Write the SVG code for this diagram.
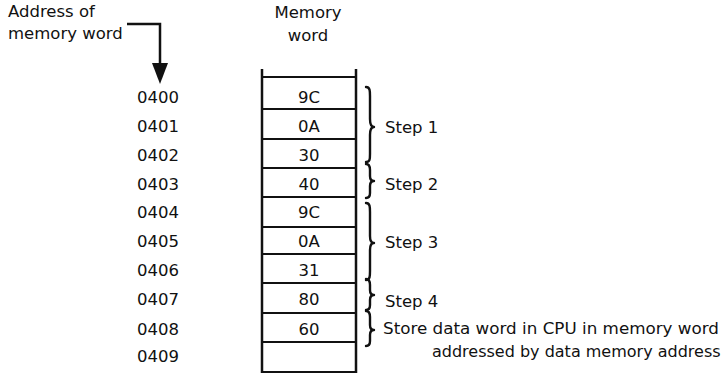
<svg xmlns="http://www.w3.org/2000/svg" width="726" height="373" viewBox="0 0 726 373">
<defs>
<style>
text{font-family:"DejaVu Sans","Liberation Sans",sans-serif;font-size:16.5px;fill:#111}
.c{text-anchor:middle}
.ln{stroke:#111;fill:none}
.frame{stroke:#111;stroke-width:2.5;fill:none}
.row{stroke:#111;stroke-width:2;fill:none}
.brace{stroke:#111;stroke-width:2.4;fill:none;stroke-linecap:round;stroke-linejoin:round}
</style>
</defs>
<rect width="726" height="373" fill="#fff"/>
<g id="headers">
<text x="8" y="17">Address of</text>
<text x="8" y="39">memory word</text>
<text class="c" x="308" y="18">Memory</text>
<text class="c" x="308" y="41">word</text>
</g>
<g id="memory-column">
<line class="frame" x1="262" y1="69" x2="262" y2="373"/>
<line class="frame" x1="356" y1="69" x2="356" y2="373"/>
<line class="row" x1="262" y1="77" x2="356" y2="77"/>
</g>
<g id="w0400"><line class="row" x1="262" y1="109" x2="356" y2="109"/><text x="137" y="103">0400</text><text class="c" x="309" y="103">9C</text></g>
<g id="w0401"><line class="row" x1="262" y1="139" x2="356" y2="139"/><text x="137" y="132">0401</text><text class="c" x="309" y="132">0A</text></g>
<g id="w0402"><line class="row" x1="262" y1="168" x2="356" y2="168"/><text x="137" y="161">0402</text><text class="c" x="309" y="161">30</text></g>
<g id="w0403"><line class="row" x1="262" y1="197" x2="356" y2="197"/><text x="137" y="190">0403</text><text class="c" x="309" y="190">40</text></g>
<g id="w0404"><line class="row" x1="262" y1="227" x2="356" y2="227"/><text x="137" y="218">0404</text><text class="c" x="309" y="218">9C</text></g>
<g id="w0405"><line class="row" x1="262" y1="254" x2="356" y2="254"/><text x="137" y="247">0405</text><text class="c" x="309" y="247">0A</text></g>
<g id="w0406"><line class="row" x1="262" y1="283" x2="356" y2="283"/><text x="137" y="276">0406</text><text class="c" x="309" y="276">31</text></g>
<g id="w0407"><line class="row" x1="262" y1="313" x2="356" y2="313"/><text x="137" y="305">0407</text><text class="c" x="309" y="305">80</text></g>
<g id="w0408"><line class="row" x1="262" y1="342" x2="356" y2="342"/><text x="137" y="335">0408</text><text class="c" x="309" y="335">60</text></g>
<g id="w0409"><line class="row" x1="262" y1="372" x2="356" y2="372"/><text x="137" y="362">0409</text></g>
<g id="connectors">
<polyline class="ln" stroke-width="2.5" points="127,24 160,24 160,68"/>
<polygon points="152,63 168,63 160,84" fill="#111"/>
</g>
<g id="braces">
<path class="brace" d="M366,87 C370,87 370,91 370,96 L370,119 C370,124 371,127 374,127 C371,127 370,130 370,135 L370,154 C370,159 370,162 366,162"/>
<path class="brace" d="M366,164 C369,164 370,166 370,170 L370,176 C370,179 371,181 374,181 C371,181 370,183 370,186 L370,193 C370,196 369,198 366,198"/>
<path class="brace" d="M366,203 C370,203 370,207 370,212 L370,236 C370,240 371,243 374,243 C371,243 370,246 370,250 L370,271 C370,276 370,280 366,280"/>
<path class="brace" d="M366,279 C369,279 370,281 370,285 L370,290 C370,293 371,295 374,295 C371,295 370,297 370,300 L370,305 C370,308 369,310 366,310"/>
<path class="brace" d="M366,311 C369,311 370,313 370,317 L370,325 C370,328 371,330 374,330 C371,330 370,332 370,335 L370,341 C370,344 369,346 366,346"/>
</g>
<g id="labels">
<text x="385" y="133">Step 1</text>
<text x="385" y="190">Step 2</text>
<text x="385" y="248">Step 3</text>
<text x="385" y="307">Step 4</text>
<text x="383" y="334" textLength="336" lengthAdjust="spacingAndGlyphs">Store data word in CPU in memory word</text>
<text x="432" y="357" style="font-size:16px">addressed by data memory address</text>
</g>
</svg>
